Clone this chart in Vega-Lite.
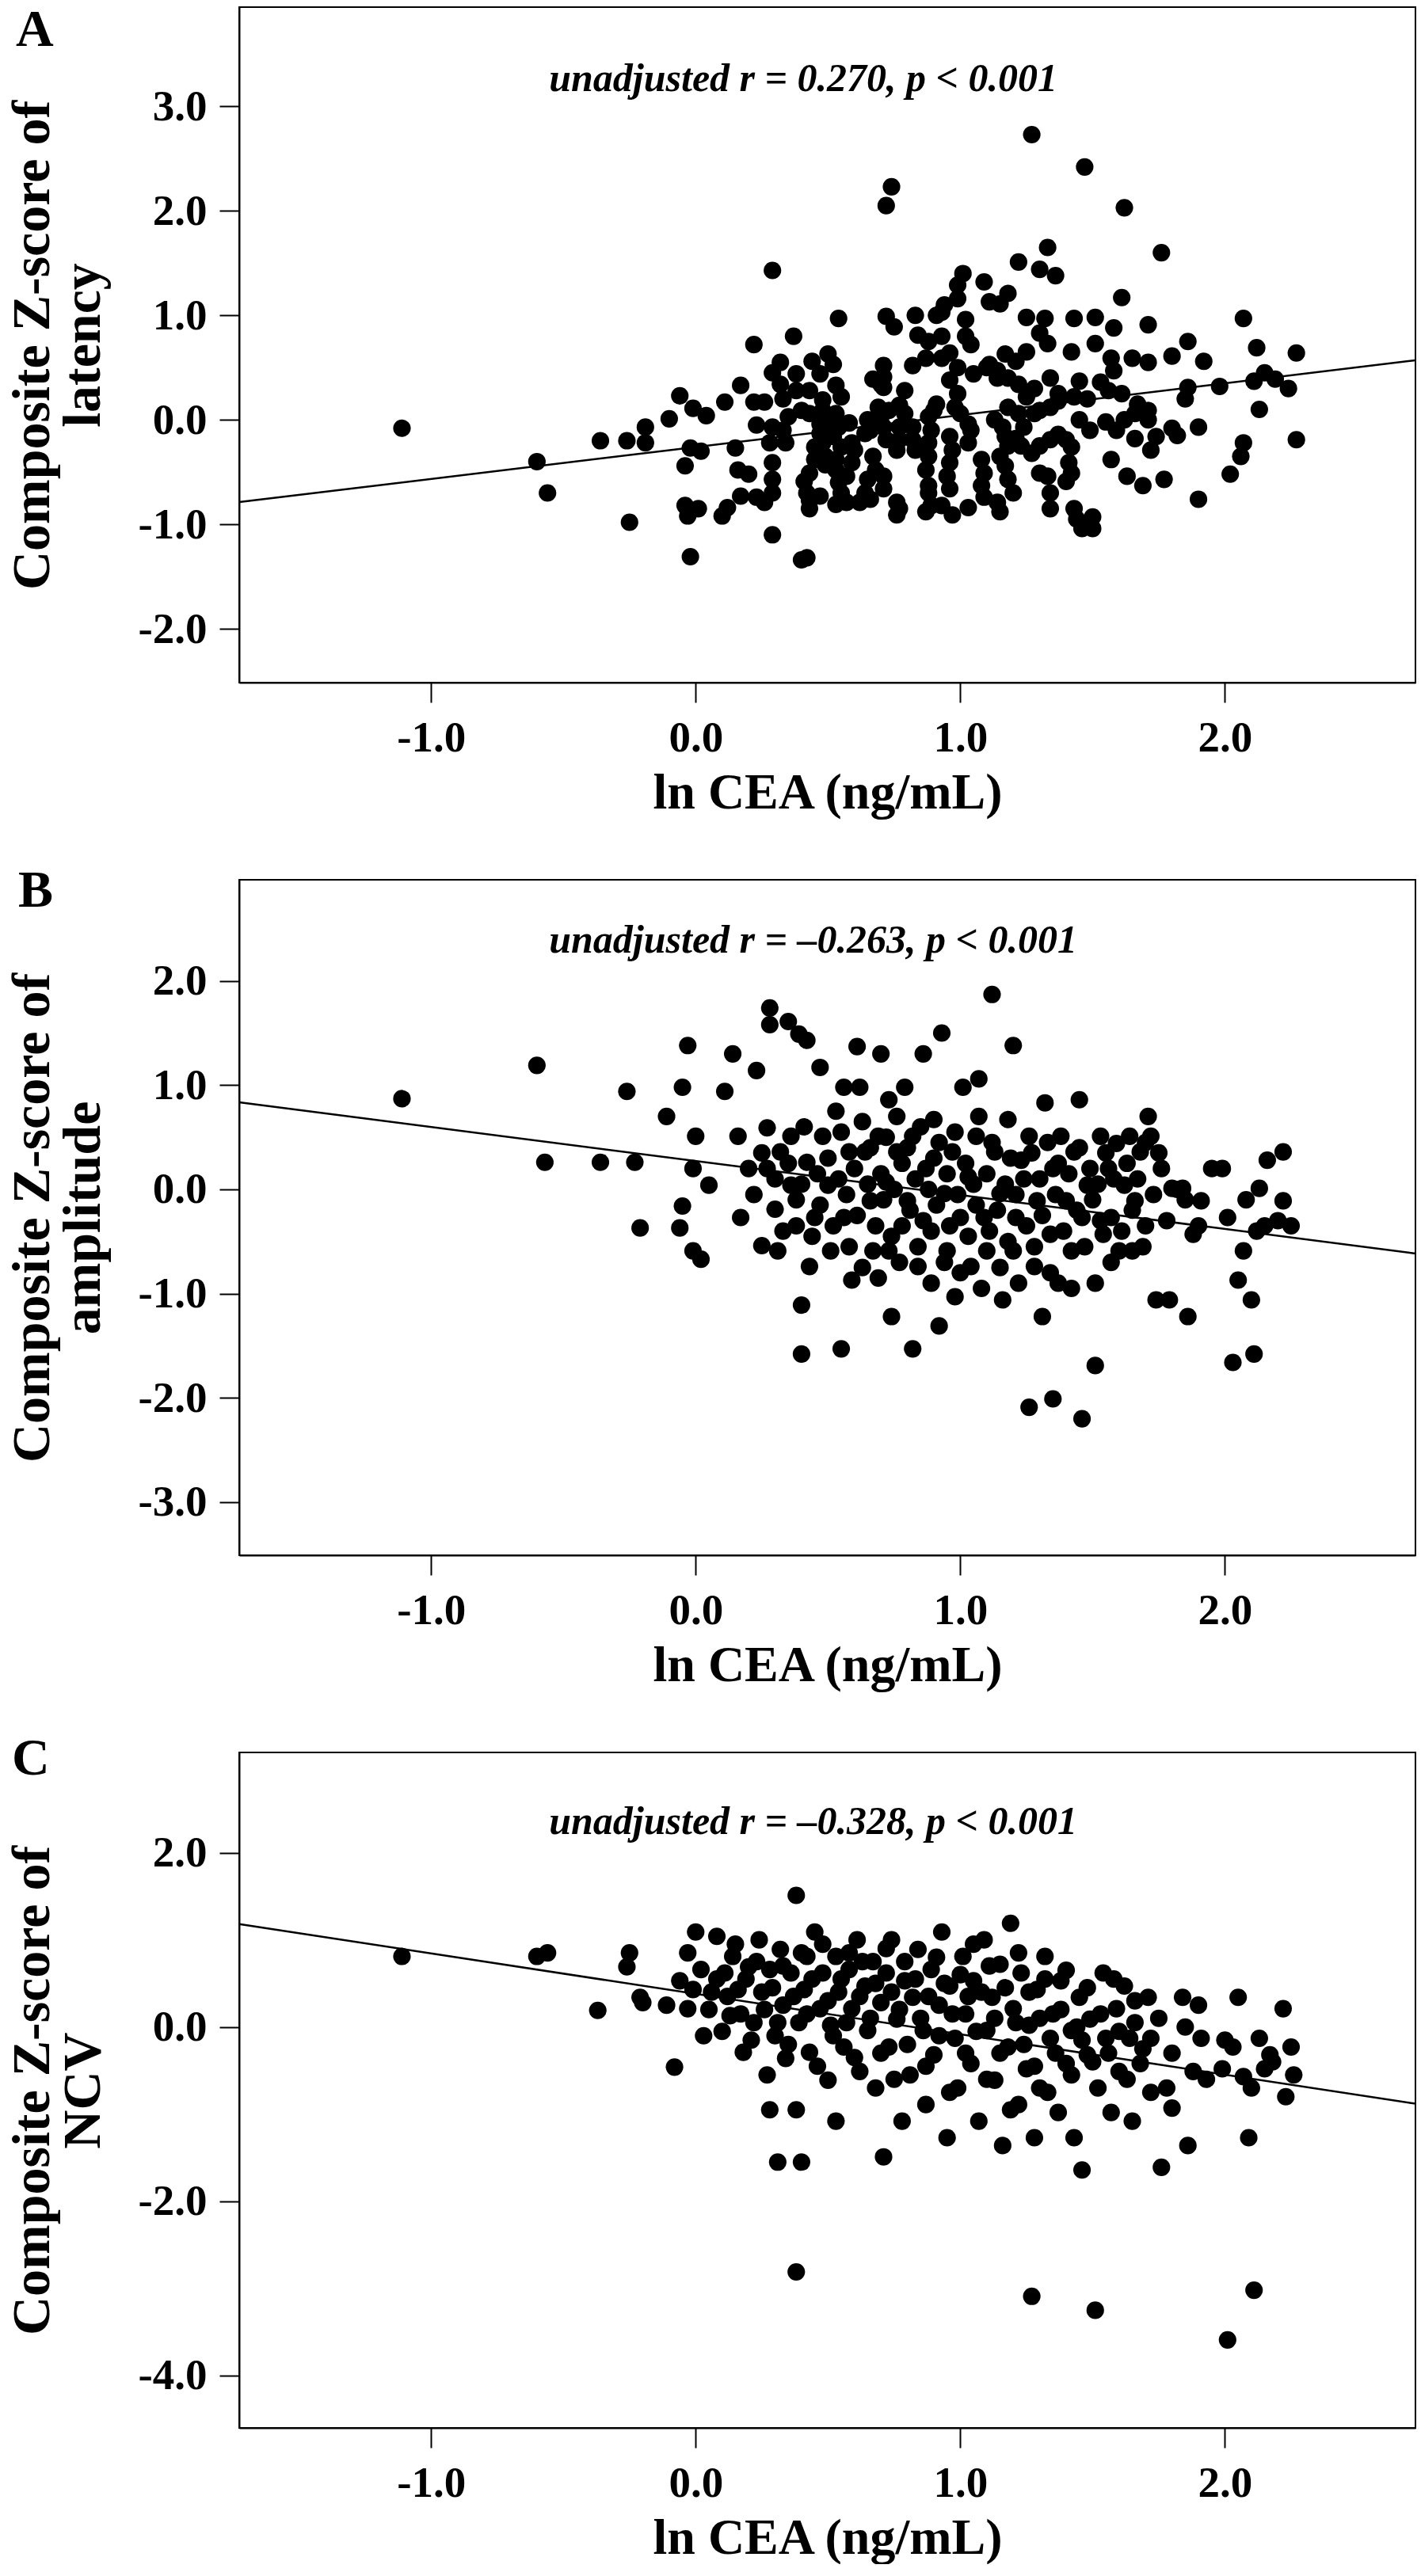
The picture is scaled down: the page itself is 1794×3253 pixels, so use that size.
{
"$schema":"https://vega.github.io/schema/vega-lite/v6.json",
"padding":{"left":6,"top":4,"right":0,"bottom":0},
"bounds":"flush",
"spacing":249,
"config":{
 "font":"Liberation Serif",
 "view":{"stroke":"black","strokeWidth":2},
 "axis":{"grid":false,"domainColor":"black","domainWidth":2,"tickColor":"black","tickWidth":2,"tickSize":25,
  "labelFont":"Liberation Serif","labelFontSize":55,"labelFontWeight":"bold","labelColor":"black",
  "titleFont":"Liberation Serif","titleFontSize":64,"titleFontWeight":"bold","titleColor":"black"},
 "axisX":{"labelPadding":18,"titlePadding":10},
 "axisY":{"labelPadding":16,"titlePadding":34,"titleFontSize":68,"titleLineHeight":64},
 "title":{"font":"Liberation Serif","fontSize":66,"fontWeight":"bold","color":"black","anchor":"start","frame":"bounds","baseline":"alphabetic","offset":0}
},
"datasets":{
"A":[
{"x":-1.11,"y":-0.08},{"x":-0.60,"y":-0.40},{"x":-0.56,"y":-0.70},{"x":-0.36,"y":-0.20},{"x":-0.26,"y":-0.20},{"x":-0.25,"y":-0.98},{"x":-0.19,"y":-0.07},{"x":-0.19,"y":-0.22},{"x":-0.10,"y":0.01},{"x":-0.06,"y":0.23},{"x":-0.04,"y":-0.44},{"x":-0.02,"y":-0.27},{"x":-0.04,"y":-0.82},{"x":-0.03,"y":-0.92},{"x":0.01,"y":-0.85},{"x":-0.02,"y":-1.31},{"x":-0.01,"y":0.11},{"x":0.04,"y":0.04},{"x":0.02,"y":-0.30},{"x":0.11,"y":0.17},{"x":0.10,"y":-0.92},{"x":0.12,"y":-0.84},{"x":0.15,"y":-0.27},{"x":0.17,"y":0.33},{"x":0.16,"y":-0.48},{"x":0.17,"y":-0.73},{"x":0.20,"y":-0.52},{"x":0.22,"y":0.72},{"x":0.22,"y":0.17},{"x":0.23,"y":-0.05},{"x":0.23,"y":-0.74},{"x":0.26,"y":-0.79},{"x":0.26,"y":0.17},{"x":0.29,"y":1.43},{"x":0.29,"y":-1.10},{"x":0.29,"y":0.45},{"x":0.29,"y":-0.57},{"x":0.28,"y":-0.22},{"x":0.29,"y":-0.41},{"x":0.29,"y":-0.70},{"x":0.29,"y":-0.07},
{"x":0.32,"y":0.55},{"x":0.32,"y":0.34},{"x":0.33,"y":0.20},{"x":0.33,"y":-0.10},{"x":0.34,"y":-0.22},{"x":0.35,"y":0.03},{"x":0.37,"y":0.80},{"x":0.38,"y":0.44},{"x":0.38,"y":0.28},{"x":0.40,"y":0.09},{"x":0.40,"y":-1.34},{"x":0.42,"y":-1.32},{"x":0.41,"y":-0.59},{"x":0.42,"y":-0.70},{"x":0.43,"y":-0.51},{"x":0.43,"y":-0.77},{"x":0.43,"y":-0.85},{"x":0.43,"y":0.06},{"x":0.43,"y":0.28},{"x":0.44,"y":0.56},{"x":0.45,"y":-0.26},{"x":0.45,"y":-0.38},{"x":0.47,"y":-0.13},{"x":0.47,"y":-0.04},{"x":0.47,"y":-0.73},{"x":0.47,"y":0.44},{"x":0.48,"y":0.19},{"x":0.48,"y":0.09},{"x":0.48,"y":-0.22},{"x":0.49,"y":-0.35},{"x":0.49,"y":-0.43},{"x":0.50,"y":0.63},{"x":0.51,"y":-0.04},{"x":0.52,"y":-0.16},{"x":0.52,"y":0.53},{"x":0.53,"y":-0.48},{"x":0.53,"y":0.33},{"x":0.53,"y":0.06},{"x":0.53,"y":-0.38},{"x":0.53,"y":-0.81},{"x":0.54,"y":0.97},{"x":0.54,"y":-0.07},{"x":0.54,"y":-0.60},{"x":0.55,"y":0.22},{"x":0.55,"y":-0.26},{"x":0.55,"y":-0.70},{"x":0.57,"y":-0.54},{"x":0.57,"y":-0.79},{"x":0.58,"y":-0.03},{"x":0.59,"y":-0.22},{"x":0.59,"y":-0.41},{"x":0.60,"y":-0.29},{"x":0.62,"y":-0.79},{"x":0.64,"y":-0.13},{"x":0.64,"y":-0.70},{"x":0.65,"y":0.00},{"x":0.65,"y":-0.57},{"x":0.66,"y":-0.10},{"x":0.66,"y":-0.76},{"x":0.67,"y":0.39},{"x":0.67,"y":-0.35},{"x":0.68,"y":-0.48},{"x":0.69,"y":0.12},{"x":0.70,"y":0.34},{"x":0.70,"y":0.03},{"x":0.71,"y":0.52},{"x":0.71,"y":0.41},{"x":0.71,"y":0.31},{"x":0.71,"y":-0.07},{"x":0.71,"y":-0.54},{"x":0.71,"y":-0.66},{"x":0.72,"y":2.05},{"x":0.72,"y":0.99},{"x":0.72,"y":-0.19},{"x":0.73,"y":0.09},{"x":0.74,"y":2.23},{"x":0.75,"y":0.89},{"x":0.76,"y":-0.79},{"x":0.76,"y":-0.91},{"x":0.76,"y":-0.29},{"x":0.77,"y":0.14},{"x":0.77,"y":-0.07},{"x":0.77,"y":-0.19},{"x":0.77,"y":-0.85},{"x":0.79,"y":0.28},{"x":0.79,"y":0.06},{"x":0.82,"y":0.52},{"x":0.82,"y":-0.07},{"x":0.82,"y":-0.19},{"x":0.83,"y":-0.29},{"x":0.83,"y":1.00},{"x":0.84,"y":0.81},{"x":0.87,"y":0.59},{"x":0.87,"y":-0.48},{"x":0.87,"y":-0.88},{"x":0.88,"y":0.03},{"x":0.88,"y":-0.35},{"x":0.88,"y":-0.63},{"x":0.88,"y":-0.70},{"x":0.88,"y":0.75},{"x":0.88,"y":-0.22},{"x":0.89,"y":-0.10},{"x":0.89,"y":-0.82},{"x":0.90,"y":0.09},{"x":0.91,"y":1.00},{"x":0.91,"y":0.15},{"x":0.93,"y":1.03},{"x":0.93,"y":0.59},{"x":0.93,"y":0.80},{"x":0.93,"y":-0.82},{"x":0.94,"y":1.10},{"x":0.95,"y":-0.54},{"x":0.96,"y":0.64},{"x":0.96,"y":0.38},{"x":0.96,"y":-0.16},{"x":0.96,"y":-0.41},{"x":0.96,"y":-0.66},{"x":0.97,"y":-0.29},{"x":0.97,"y":-0.91},{"x":0.98,"y":0.12},{"x":0.99,"y":0.25},{"x":0.99,"y":1.29},{"x":0.99,"y":1.16},{"x":0.99,"y":0.50},{"x":1.00,"y":0.06},{"x":1.01,"y":1.40},{"x":1.02,"y":0.80},{"x":1.02,"y":0.96},{"x":1.03,"y":-0.04},{"x":1.03,"y":-0.22},{"x":1.03,"y":-0.84},{"x":1.04,"y":0.72},{"x":1.04,"y":-0.10},{"x":1.05,"y":0.44},{"x":1.08,"y":-0.38},{"x":1.08,"y":-0.63},{"x":1.09,"y":1.32},{"x":1.09,"y":-0.51},{"x":1.09,"y":-0.74},{"x":1.10,"y":0.50},{"x":1.11,"y":1.13},{"x":1.11,"y":0.53},{"x":1.13,"y":0.00},{"x":1.14,"y":0.47},{"x":1.14,"y":0.40},{"x":1.14,"y":-0.79},{"x":1.15,"y":1.11},{"x":1.15,"y":-0.35},{"x":1.15,"y":-0.88},{"x":1.16,"y":-0.07},{"x":1.17,"y":-0.44},{"x":1.17,"y":0.63},{"x":1.17,"y":-0.16},{"x":1.18,"y":1.21},{"x":1.18,"y":0.40},{"x":1.18,"y":0.12},{"x":1.18,"y":-0.25},{"x":1.18,"y":-0.57},{"x":1.20,"y":-0.70},{"x":1.21,"y":0.56},{"x":1.21,"y":-0.18},{"x":1.22,"y":0.34},{"x":1.22,"y":0.06},{"x":1.22,"y":1.51},{"x":1.23,"y":-0.25},{"x":1.24,"y":-0.07},{"x":1.25,"y":0.98},{"x":1.25,"y":0.65},{"x":1.25,"y":0.22},{"x":1.27,"y":2.73},{"x":1.27,"y":-0.32},{"x":1.28,"y":0.06},{"x":1.28,"y":0.30},{"x":1.30,"y":1.44},{"x":1.30,"y":0.83},{"x":1.30,"y":0.09},{"x":1.30,"y":-0.25},{"x":1.30,"y":-0.51},{"x":1.32,"y":0.97},{"x":1.33,"y":0.73},{"x":1.33,"y":-0.54},{"x":1.33,"y":1.65},{"x":1.34,"y":0.12},{"x":1.34,"y":-0.19},{"x":1.34,"y":-0.70},{"x":1.34,"y":0.40},{"x":1.34,"y":-0.85},{"x":1.36,"y":1.38},{"x":1.37,"y":0.25},{"x":1.37,"y":0.18},{"x":1.37,"y":-0.14},{"x":1.40,"y":-0.19},{"x":1.40,"y":-0.59},{"x":1.41,"y":-0.41},{"x":1.42,"y":0.65},{"x":1.42,"y":-0.26},{"x":1.42,"y":-0.51},{"x":1.43,"y":0.97},{"x":1.43,"y":0.22},{"x":1.43,"y":-0.85},{"x":1.44,"y":-0.95},{"x":1.45,"y":0.00},{"x":1.45,"y":0.37},{"x":1.46,"y":-1.04},{"x":1.46,"y":-0.99},{"x":1.47,"y":2.42},{"x":1.48,"y":0.20},{"x":1.49,"y":-0.10},{"x":1.50,"y":-0.93},{"x":1.50,"y":-1.04},{"x":1.51,"y":0.98},{"x":1.51,"y":0.73},{"x":1.53,"y":0.36},{"x":1.55,"y":-0.02},{"x":1.56,"y":0.28},{"x":1.57,"y":-0.38},{"x":1.57,"y":0.59},{"x":1.58,"y":0.88},{"x":1.58,"y":0.47},{"x":1.59,"y":-0.10},{"x":1.61,"y":0.25},{"x":1.61,"y":1.17},{"x":1.62,"y":2.03},{"x":1.62,"y":0.00},{"x":1.63,"y":-0.54},{"x":1.65,"y":0.59},{"x":1.66,"y":0.06},{"x":1.66,"y":-0.18},{"x":1.67,"y":0.15},{"x":1.69,"y":-0.63},{"x":1.71,"y":0.91},{"x":1.71,"y":0.55},{"x":1.71,"y":0.09},{"x":1.71,"y":0.00},{"x":1.72,"y":-0.29},{"x":1.74,"y":-0.16},{"x":1.76,"y":1.60},{"x":1.77,"y":-0.57},{"x":1.80,"y":0.61},{"x":1.80,"y":-0.08},{"x":1.82,"y":-0.15},{"x":1.85,"y":0.20},{"x":1.86,"y":0.75},{"x":1.86,"y":0.31},{"x":1.90,"y":-0.76},{"x":1.90,"y":-0.07},{"x":1.92,"y":0.56},{"x":1.98,"y":0.32},{"x":2.02,"y":-0.52},{"x":2.06,"y":-0.35},{"x":2.07,"y":0.97},{"x":2.07,"y":-0.22},{"x":2.11,"y":0.37},{"x":2.12,"y":0.69},{"x":2.13,"y":0.10},{"x":2.15,"y":0.45},{"x":2.19,"y":0.39},{"x":2.24,"y":0.30},{"x":2.27,"y":0.64},{"x":2.27,"y":-0.19}
],
"B":[
{"x":-1.11,"y":0.87},{"x":-0.60,"y":1.19},{"x":-0.57,"y":0.26},{"x":-0.36,"y":0.26},{"x":-0.26,"y":0.94},{"x":-0.23,"y":0.26},{"x":-0.21,"y":-0.37},{"x":-0.11,"y":0.70},{"x":-0.06,"y":-0.37},{"x":-0.05,"y":0.98},{"x":-0.03,"y":1.38},{"x":-0.05,"y":-0.16},{"x":-0.01,"y":-0.59},{"x":0.02,"y":-0.67},{"x":0.00,"y":0.51},{"x":-0.01,"y":0.20},{"x":0.05,"y":0.04},{"x":0.11,"y":0.94},{"x":0.14,"y":1.30},{"x":0.16,"y":0.51},{"x":0.17,"y":-0.27},{"x":0.20,"y":0.20},{"x":0.23,"y":1.14},{"x":0.25,"y":-0.54},{"x":0.27,"y":0.59},{"x":0.27,"y":0.20},{"x":0.28,"y":1.74},{"x":0.28,"y":1.58},{"x":0.30,"y":-0.19},{"x":0.31,"y":-0.59},{"x":0.32,"y":0.36},{"x":0.35,"y":1.61},{"x":0.36,"y":0.51},{"x":0.36,"y":0.04},{"x":0.38,"y":-0.35},{"x":0.39,"y":1.49},{"x":0.40,"y":-1.11},{"x":0.40,"y":-1.58},{"x":0.42,"y":1.43},{"x":0.42,"y":0.26},{"x":0.43,"y":-0.74},{"x":0.45,"y":-0.27},{"x":0.47,"y":1.17},{"x":0.48,"y":0.51},{"x":0.50,"y":0.04},{"x":0.51,"y":-0.59},{"x":0.53,"y":0.75},{"x":0.55,"y":-1.53},{"x":0.56,"y":0.98},{"x":0.56,"y":-0.27},{"x":0.58,"y":0.36},{"x":0.59,"y":-0.87},{"x":0.61,"y":1.37},{"x":0.62,"y":0.98},{"x":0.64,"y":0.36},{"x":0.66,"y":-0.11},{"x":0.67,"y":-0.59},{"x":0.69,"y":0.51},{"x":0.70,"y":1.30},{"x":0.72,"y":0.07},{"x":0.73,"y":0.86},{"x":0.73,"y":-0.59},{"x":0.74,"y":-1.22},{"x":0.76,"y":0.36},{"x":0.78,"y":-0.35},{"x":0.79,"y":0.98},{"x":0.80,"y":-0.11},{"x":0.82,"y":-1.53},{"x":0.82,"y":0.51},{"x":0.84,"y":-0.74},{"x":0.86,"y":1.30},{"x":0.87,"y":0.20},{"x":0.89,"y":-0.40},{"x":0.90,"y":0.67},{"x":0.92,"y":-1.31},{"x":0.93,"y":1.50},{"x":0.94,"y":-0.04},{"x":0.95,"y":-0.59},{"x":0.97,"y":0.36},{"x":0.98,"y":-1.03},{"x":1.00,"y":-0.27},{"x":1.01,"y":0.98},{"x":1.03,"y":0.12},{"x":1.04,"y":-0.74},{"x":1.06,"y":0.51},{"x":1.07,"y":1.06},{"x":1.09,"y":-0.27},{"x":1.10,"y":-0.59},{"x":1.12,"y":1.87},{"x":1.13,"y":0.36},{"x":1.15,"y":-0.04},{"x":1.16,"y":-1.06},{"x":1.18,"y":0.67},{"x":1.20,"y":1.38},{"x":1.20,"y":-0.59},{"x":1.21,"y":-0.27},{"x":1.23,"y":0.28},{"x":1.26,"y":-2.09},{"x":1.26,"y":0.51},{"x":1.28,"y":-0.74},{"x":1.29,"y":-0.11},{"x":1.31,"y":-1.22},{"x":1.32,"y":0.83},{"x":1.34,"y":-0.43},{"x":1.35,"y":-2.01},{"x":1.35,"y":0.20},{"x":1.37,"y":-0.90},{"x":1.38,"y":0.51},{"x":1.40,"y":-0.11},{"x":1.42,"y":-0.59},{"x":1.43,"y":0.36},{"x":1.45,"y":0.86},{"x":1.46,"y":-2.20},{"x":1.46,"y":-0.27},{"x":1.48,"y":0.04},{"x":1.51,"y":-1.69},{"x":1.51,"y":-0.90},{"x":1.53,"y":0.51},{"x":1.54,"y":-0.43},{"x":1.56,"y":0.20},{"x":1.57,"y":-0.27},{"x":1.59,"y":0.44},{"x":1.60,"y":-0.59},{"x":1.62,"y":0.04},{"x":1.64,"y":0.51},{"x":1.65,"y":-0.59},{"x":1.66,"y":-0.11},{"x":1.68,"y":0.36},{"x":1.70,"y":-0.35},{"x":1.71,"y":0.70},{"x":1.72,"y":0.51},{"x":1.74,"y":-1.06},{"x":1.76,"y":0.20},{"x":1.79,"y":-1.06},{"x":1.80,"y":0.01},{"x":1.84,"y":0.01},{"x":1.86,"y":-1.22},{"x":1.88,"y":-0.43},{"x":1.91,"y":-0.11},{"x":1.99,"y":0.20},{"x":2.01,"y":-0.27},{"x":2.03,"y":-1.66},{"x":2.05,"y":-0.87},{"x":2.07,"y":-0.59},{"x":2.10,"y":-1.06},{"x":2.11,"y":-1.58},{"x":2.13,"y":0.01},{"x":2.15,"y":-0.35},{"x":2.16,"y":0.28},{"x":2.22,"y":0.36},{"x":2.22,"y":-0.11},{"x":2.25,"y":-0.35},
{"x":0.22,"y":-0.05},{"x":0.25,"y":0.35},{"x":0.30,"y":0.10},{"x":0.33,"y":-0.40},{"x":0.35,"y":0.25},{"x":0.38,"y":-0.10},{"x":0.40,"y":0.05},{"x":0.41,"y":0.60},{"x":0.44,"y":-0.45},{"x":0.46,"y":0.15},{"x":0.47,"y":-0.15},{"x":0.50,"y":0.30},{"x":0.52,"y":-0.35},{"x":0.54,"y":0.10},{"x":0.55,"y":0.55},{"x":0.57,"y":-0.05},{"x":0.58,"y":-0.55},{"x":0.60,"y":0.20},{"x":0.61,"y":-0.25},{"x":0.63,"y":0.65},{"x":0.63,"y":-0.75},{"x":0.65,"y":0.05},{"x":0.66,"y":0.40},{"x":0.68,"y":-0.35},{"x":0.69,"y":-0.85},{"x":0.70,"y":0.15},{"x":0.71,"y":-0.10},{"x":0.72,"y":0.50},{"x":0.74,"y":-0.45},{"x":0.75,"y":0.00},{"x":0.76,"y":0.70},{"x":0.77,"y":-0.70},{"x":0.78,"y":0.25},{"x":0.80,"y":0.40},{"x":0.81,"y":-0.20},{"x":0.83,"y":0.10},{"x":0.84,"y":-0.55},{"x":0.85,"y":0.60},{"x":0.86,"y":-0.30},{"x":0.88,"y":0.00},{"x":0.89,"y":-0.90},{"x":0.90,"y":0.30},{"x":0.91,"y":-0.15},{"x":0.92,"y":0.45},{"x":0.94,"y":-0.70},{"x":0.95,"y":0.15},{"x":0.96,"y":-0.35},{"x":0.98,"y":0.55},{"x":0.99,"y":-0.05},{"x":1.00,"y":-0.80},{"x":1.02,"y":0.25},{"x":1.03,"y":-0.45},{"x":1.05,"y":0.05},{"x":1.06,"y":-0.15},{"x":1.07,"y":0.70},{"x":1.08,"y":-0.95},{"x":1.10,"y":0.15},{"x":1.11,"y":-0.40},{"x":1.12,"y":0.45},{"x":1.14,"y":-0.20},{"x":1.15,"y":-0.75},{"x":1.17,"y":0.05},{"x":1.18,"y":-0.50},{"x":1.19,"y":0.30},{"x":1.21,"y":-0.05},{"x":1.22,"y":-0.90},{"x":1.24,"y":0.10},{"x":1.25,"y":-0.35},{"x":1.27,"y":0.35},{"x":1.28,"y":-0.55},{"x":1.30,"y":0.10},{"x":1.31,"y":-0.25},{"x":1.33,"y":0.45},{"x":1.34,"y":-0.80},{"x":1.36,"y":-0.05},{"x":1.37,"y":0.25},{"x":1.39,"y":-0.40},{"x":1.41,"y":0.15},{"x":1.42,"y":-0.95},{"x":1.44,"y":-0.20},{"x":1.45,"y":0.40},{"x":1.47,"y":-0.55},{"x":1.49,"y":0.20},{"x":1.50,"y":-0.10},{"x":1.52,"y":0.05},{"x":1.53,"y":-0.30},{"x":1.55,"y":0.35},{"x":1.57,"y":-0.70},{"x":1.58,"y":0.10},{"x":1.61,"y":-0.40},{"x":1.63,"y":0.25},{"x":1.65,"y":-0.20},{"x":1.67,"y":0.10},{"x":1.69,"y":-0.55},{"x":1.70,"y":0.45},{"x":1.73,"y":-0.05},{"x":1.75,"y":0.35},{"x":1.78,"y":-0.30},{"x":1.82,"y":0.00},{"x":1.85,"y":-0.10},{"x":1.90,"y":-0.35},{"x":1.95,"y":0.20},{"x":2.08,"y":-0.10},{"x":2.12,"y":-0.40},{"x":2.20,"y":-0.30}
],
"C":[
{"x":-1.11,"y":0.81},{"x":-0.60,"y":0.81},{"x":-0.56,"y":0.85},{"x":-0.37,"y":0.19},{"x":-0.26,"y":0.69},{"x":-0.25,"y":0.85},{"x":-0.21,"y":0.34},{"x":-0.20,"y":0.28},{"x":-0.11,"y":0.25},{"x":-0.08,"y":-0.46},{"x":-0.06,"y":0.53},{"x":-0.03,"y":0.85},{"x":-0.03,"y":0.21},{"x":-0.01,"y":0.43},{"x":0.00,"y":1.09},{"x":0.02,"y":0.66},{"x":0.03,"y":-0.10},{"x":0.06,"y":0.40},{"x":0.08,"y":1.04},{"x":0.11,"y":0.62},{"x":0.13,"y":0.13},{"x":0.14,"y":0.81},{"x":0.16,"y":0.43},{"x":0.18,"y":-0.29},{"x":0.20,"y":0.69},{"x":0.22,"y":0.05},{"x":0.24,"y":1.00},{"x":0.25,"y":0.40},{"x":0.27,"y":-0.55},{"x":0.28,"y":-0.95},{"x":0.28,"y":0.66},{"x":0.30,"y":-0.10},{"x":0.31,"y":-1.55},{"x":0.32,"y":0.89},{"x":0.33,"y":0.25},{"x":0.34,"y":-0.36},{"x":0.36,"y":0.62},{"x":0.38,"y":-0.95},{"x":0.38,"y":1.51},{"x":0.39,"y":0.05},{"x":0.40,"y":-1.55},{"x":0.38,"y":-2.81},{"x":0.41,"y":0.43},{"x":0.42,"y":0.81},{"x":0.43,"y":-0.29},{"x":0.45,"y":1.09},{"x":0.47,"y":0.21},{"x":0.48,"y":0.62},{"x":0.50,"y":-0.61},{"x":0.51,"y":0.02},{"x":0.53,"y":-1.08},{"x":0.53,"y":0.81},{"x":0.54,"y":0.40},{"x":0.56,"y":-0.23},{"x":0.58,"y":0.66},{"x":0.59,"y":0.21},{"x":0.61,"y":1.00},{"x":0.62,"y":-0.51},{"x":0.64,"y":0.47},{"x":0.65,"y":-0.04},{"x":0.67,"y":0.75},{"x":0.68,"y":-0.70},{"x":0.70,"y":0.28},{"x":0.71,"y":-1.49},{"x":0.72,"y":0.62},{"x":0.73,"y":-0.23},{"x":0.74,"y":1.00},{"x":0.76,"y":0.09},{"x":0.78,"y":-1.08},{"x":0.79,"y":0.53},{"x":0.81,"y":-0.55},{"x":0.82,"y":0.34},{"x":0.84,"y":0.89},{"x":0.86,"y":-0.04},{"x":0.87,"y":-0.89},{"x":0.89,"y":0.66},{"x":0.90,"y":-0.32},{"x":0.92,"y":0.25},{"x":0.93,"y":1.09},{"x":0.95,"y":-1.27},{"x":0.96,"y":0.47},{"x":0.98,"y":-0.13},{"x":0.99,"y":-0.70},{"x":1.01,"y":0.81},{"x":1.02,"y":0.15},{"x":1.04,"y":-0.42},{"x":1.05,"y":0.53},{"x":1.07,"y":-1.08},{"x":1.09,"y":1.00},{"x":1.10,"y":-0.04},{"x":1.12,"y":0.34},{"x":1.13,"y":-0.61},{"x":1.15,"y":0.72},{"x":1.16,"y":-1.36},{"x":1.18,"y":-0.23},{"x":1.19,"y":1.19},{"x":1.20,"y":0.21},{"x":1.22,"y":-0.89},{"x":1.23,"y":0.62},{"x":1.25,"y":-0.48},{"x":1.27,"y":-3.09},{"x":1.26,"y":0.02},{"x":1.28,"y":-1.27},{"x":1.29,"y":0.43},{"x":1.30,"y":-0.70},{"x":1.32,"y":0.81},{"x":1.34,"y":-0.13},{"x":1.35,"y":0.15},{"x":1.37,"y":-0.98},{"x":1.38,"y":0.53},{"x":1.40,"y":-0.42},{"x":1.42,"y":-0.04},{"x":1.43,"y":-1.27},{"x":1.45,"y":0.34},{"x":1.46,"y":-1.64},{"x":1.48,"y":-0.32},{"x":1.49,"y":0.09},{"x":1.51,"y":-3.25},{"x":1.52,"y":-0.70},{"x":1.54,"y":0.62},{"x":1.55,"y":-0.13},{"x":1.57,"y":-0.98},{"x":1.59,"y":0.21},{"x":1.60,"y":-0.51},{"x":1.62,"y":0.47},{"x":1.64,"y":-0.13},{"x":1.65,"y":-1.08},{"x":1.66,"y":0.05},{"x":1.68,"y":-0.42},{"x":1.71,"y":0.34},{"x":1.72,"y":-0.13},{"x":1.76,"y":-1.61},{"x":1.78,"y":-0.70},{"x":1.80,"y":-0.93},{"x":1.84,"y":0.34},{"x":1.86,"y":-1.36},{"x":1.88,"y":-0.51},{"x":1.90,"y":0.25},{"x":1.91,"y":-0.13},{"x":1.99,"y":-0.48},{"x":2.01,"y":-3.59},{"x":2.03,"y":-0.23},{"x":2.05,"y":0.34},{"x":2.07,"y":-0.57},{"x":2.09,"y":-1.27},{"x":2.11,"y":-3.02},{"x":2.13,"y":-0.13},{"x":2.15,"y":-0.48},{"x":2.17,"y":-0.32},{"x":2.22,"y":0.21},{"x":2.25,"y":-0.23},{"x":2.26,"y":-0.55},
{"x":0.05,"y":0.20},{"x":0.08,"y":0.55},{"x":0.10,"y":-0.05},{"x":0.12,"y":0.35},{"x":0.15,"y":0.95},{"x":0.17,"y":0.15},{"x":0.19,"y":0.55},{"x":0.21,"y":-0.15},{"x":0.23,"y":0.75},{"x":0.26,"y":0.20},{"x":0.29,"y":0.45},{"x":0.31,"y":0.05},{"x":0.33,"y":0.70},{"x":0.35,"y":-0.20},{"x":0.37,"y":0.35},{"x":0.40,"y":0.85},{"x":0.42,"y":0.15},{"x":0.44,"y":0.55},{"x":0.46,"y":-0.45},{"x":0.48,"y":0.95},{"x":0.50,"y":0.30},{"x":0.52,"y":-0.10},{"x":0.55,"y":0.55},{"x":0.57,"y":0.05},{"x":0.58,"y":0.85},{"x":0.60,"y":-0.35},{"x":0.62,"y":0.35},{"x":0.63,"y":0.75},{"x":0.66,"y":0.10},{"x":0.68,"y":0.50},{"x":0.70,"y":-0.30},{"x":0.72,"y":0.90},{"x":0.74,"y":0.40},{"x":0.75,"y":-0.60},{"x":0.77,"y":0.20},{"x":0.79,"y":0.75},{"x":0.80,"y":-0.20},{"x":0.83,"y":0.55},{"x":0.85,"y":0.10},{"x":0.87,"y":-0.45},{"x":0.88,"y":0.35},{"x":0.91,"y":0.80},{"x":0.92,"y":-0.10},{"x":0.94,"y":0.50},{"x":0.96,"y":-0.75},{"x":0.97,"y":0.15},{"x":1.00,"y":0.60},{"x":1.02,"y":-0.30},{"x":1.03,"y":0.35},{"x":1.05,"y":0.95},{"x":1.06,"y":-0.05},{"x":1.08,"y":0.40},{"x":1.10,"y":-0.60},{"x":1.11,"y":0.70},{"x":1.13,"y":0.10},{"x":1.15,"y":-0.30},{"x":1.17,"y":0.45},{"x":1.19,"y":-0.95},{"x":1.21,"y":0.05},{"x":1.22,"y":0.85},{"x":1.24,"y":-0.20},{"x":1.26,"y":0.40},{"x":1.28,"y":-0.45},{"x":1.30,"y":0.10},{"x":1.32,"y":0.55},{"x":1.33,"y":-0.75},{"x":1.36,"y":-0.30},{"x":1.38,"y":0.20},{"x":1.40,"y":0.65},{"x":1.42,"y":-0.55},{"x":1.44,"y":0.00},{"x":1.46,"y":-0.15},{"x":1.48,"y":0.45},{"x":1.50,"y":-0.40},{"x":1.53,"y":0.15},{"x":1.56,"y":-0.30},{"x":1.58,"y":0.55},{"x":1.60,"y":-0.05},{"x":1.63,"y":-0.60},{"x":1.66,"y":0.30},{"x":1.69,"y":-0.25},{"x":1.72,"y":-0.75},{"x":1.75,"y":0.10},{"x":1.80,"y":-0.30},{"x":1.85,"y":0.00},{"x":1.93,"y":-0.60},{"x":2.00,"y":-0.15},{"x":2.10,"y":-0.70},{"x":2.18,"y":-0.40},{"x":2.23,"y":-0.80}
]
},
"vconcat":[
{"width":1485,"height":853,
 "title":{"text":"A","dy":67,"dx":12},
 "layer":[
  {"data":{"name":"A"},"mark":{"type":"point","filled":true,"color":"black","opacity":1,"size":490},
   "encoding":{
    "x":{"field":"x","type":"quantitative","scale":{"domain":[-1.725,2.72],"nice":false,"zero":false},"axis":{"title":"ln CEA (ng/mL)","values":[-1,0,1,2],"labelExpr":"replace(format(datum.value,'.1f'),'\u2212','-')"}},
    "y":{"field":"y","type":"quantitative","scale":{"domain":[-2.515,3.95],"nice":false,"zero":false},"axis":{"title":["Composite Z-score of","latency"],"values":[-2,-1,0,1,2,3],"labelExpr":"replace(format(datum.value,'.1f'),'\u2212','-')"}}}},
  {"data":{"values":[{"x":-1.725,"y":-0.787,"x2":2.72,"y2":0.57}]},"mark":{"type":"rule","color":"black","strokeWidth":2.5},
   "encoding":{"x":{"field":"x","type":"quantitative"},"y":{"field":"y","type":"quantitative"},"x2":{"field":"x2"},"y2":{"field":"y2"}}},
  {"data":{"values":[{"x":-0.554,"y":3.15,"t":"unadjusted r = 0.270, p < 0.001"}]},"mark":{"type":"text","align":"left","baseline":"alphabetic","font":"Liberation Serif","fontSize":50,"fontStyle":"italic","fontWeight":"bold","color":"black"},
   "encoding":{"x":{"field":"x","type":"quantitative"},"y":{"field":"y","type":"quantitative"},"text":{"field":"t"}}}
 ]},
{"width":1485,"height":853,
 "title":{"text":"B","dy":52,"dx":15},
 "layer":[
  {"data":{"name":"B"},"mark":{"type":"point","filled":true,"color":"black","opacity":1,"size":490},
   "encoding":{
    "x":{"field":"x","type":"quantitative","scale":{"domain":[-1.725,2.72],"nice":false,"zero":false},"axis":{"title":"ln CEA (ng/mL)","values":[-1,0,1,2],"labelExpr":"replace(format(datum.value,'.1f'),'\u2212','-')"}},
    "y":{"field":"y","type":"quantitative","scale":{"domain":[-3.51,2.97],"nice":false,"zero":false},"axis":{"title":["Composite Z-score of","amplitude"],"values":[-3,-2,-1,0,1,2],"labelExpr":"replace(format(datum.value,'.1f'),'\u2212','-')"}}}},
  {"data":{"values":[{"x":-1.725,"y":0.835,"x2":2.72,"y2":-0.615}]},"mark":{"type":"rule","color":"black","strokeWidth":2.5},
   "encoding":{"x":{"field":"x","type":"quantitative"},"y":{"field":"y","type":"quantitative"},"x2":{"field":"x2"},"y2":{"field":"y2"}}},
  {"data":{"values":[{"x":-0.554,"y":2.27,"t":"unadjusted r = \u20130.263, p < 0.001"}]},"mark":{"type":"text","align":"left","baseline":"alphabetic","font":"Liberation Serif","fontSize":50,"fontStyle":"italic","fontWeight":"bold","color":"black"},
   "encoding":{"x":{"field":"x","type":"quantitative"},"y":{"field":"y","type":"quantitative"},"text":{"field":"t"}}}
 ]},
{"width":1485,"height":853,
 "title":{"text":"C","dy":46,"dx":7},
 "layer":[
  {"data":{"name":"C"},"mark":{"type":"point","filled":true,"color":"black","opacity":1,"size":490},
   "encoding":{
    "x":{"field":"x","type":"quantitative","scale":{"domain":[-1.725,2.72],"nice":false,"zero":false},"axis":{"title":"ln CEA (ng/mL)","values":[-1,0,1,2],"labelExpr":"replace(format(datum.value,'.1f'),'\u2212','-')"}},
    "y":{"field":"y","type":"quantitative","scale":{"domain":[-4.6,3.15],"nice":false,"zero":false},"axis":{"title":["Composite Z-score of","NCV"],"values":[-4,-2,0,2],"labelExpr":"replace(format(datum.value,'.1f'),'\u2212','-')"}}}},
  {"data":{"values":[{"x":-1.725,"y":1.18,"x2":2.72,"y2":-0.88}]},"mark":{"type":"rule","color":"black","strokeWidth":2.5},
   "encoding":{"x":{"field":"x","type":"quantitative"},"y":{"field":"y","type":"quantitative"},"x2":{"field":"x2"},"y2":{"field":"y2"}}},
  {"data":{"values":[{"x":-0.554,"y":2.21,"t":"unadjusted r = \u20130.328, p < 0.001"}]},"mark":{"type":"text","align":"left","baseline":"alphabetic","font":"Liberation Serif","fontSize":50,"fontStyle":"italic","fontWeight":"bold","color":"black"},
   "encoding":{"x":{"field":"x","type":"quantitative"},"y":{"field":"y","type":"quantitative"},"text":{"field":"t"}}}
 ]}
]
}
